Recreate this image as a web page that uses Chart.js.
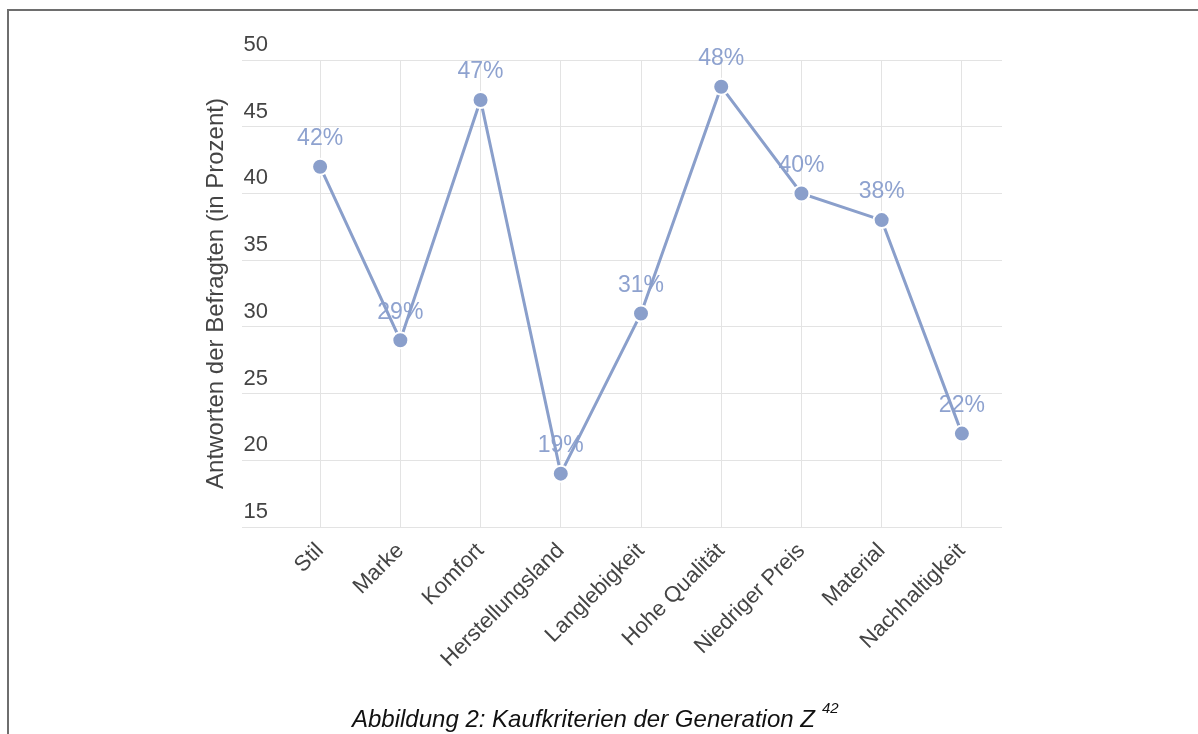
<!DOCTYPE html>
<html lang="de">
<head>
<meta charset="utf-8">
<title>Kaufkriterien der Generation Z</title>
<script src="https://cdn.jsdelivr.net/npm/chart.js@4.4.1/dist/chart.umd.min.js"></script>
<style>
    body {
        margin: 0;
        background: #ffffff;
        font-family: "Liberation Sans", Arial, sans-serif;
    }

    #page {
        position: relative;
        width: 1198px;
        height: 734px;
        overflow: hidden;
    }

    #frame {
        position: absolute;
        left: 7px;
        top: 9px;
        width: 1400px;
        height: 1000px;
        border-top: 2px solid #6e6e6e;
        border-left: 2px solid #6e6e6e;
    }

    #chart {
        position: absolute;
        left: 0;
        top: 0;
    }

    #caption {
        position: absolute;
        left: 352px;
        top: 707px;
        font-size: 24px;
        line-height: 24px;
        font-style: italic;
        color: #111111;
        white-space: nowrap;
    }

    #caption sup {
        font-size: 15px;
        position: relative;
        top: -14px;
        vertical-align: 0;
        margin-left: 7px;
    }
</style>
</head>
<body>
<div id="page">
    <div id="frame"></div>
    <canvas id="chart" width="1198" height="734"></canvas>
    <div id="caption">Abbildung 2: Kaufkriterien der Generation Z<sup>42</sup></div>
</div>

<script>
// Daten aus der Abbildung
const kriterien = ['Stil', 'Marke', 'Komfort', 'Herstellungsland', 'Langlebigkeit',
    'Hohe Qualität', 'Niedriger Preis', 'Material', 'Nachhaltigkeit'];
const antworten = [42, 29, 47, 19, 31, 48, 40, 38, 22];
const yTicks = [15, 20, 25, 30, 35, 40, 45, 50];

const lineColor = '#8a9fcb';
const labelColor = '#8ea2cf';
const textColor = '#444444';
const gridColor = '#e3e3e3';
const fontFamily = '"Liberation Sans", Arial, sans-serif';

// Prozent-Beschriftung über jedem Punkt
const wertLabels = {
    id: 'wertLabels',
    beforeDatasetsDraw(chart) {
        const ctx = chart.ctx;
        const meta = chart.getDatasetMeta(0);
        ctx.save();
        ctx.font = '23px ' + fontFamily;
        ctx.fillStyle = labelColor;
        ctx.textAlign = 'center';
        ctx.textBaseline = 'middle';
        meta.data.forEach((point, i) => {
            ctx.fillText(antworten[i] + '%', point.x, point.y - 28);
        });
        ctx.restore();
    }
};

function initializeChart() {
    new Chart(document.getElementById('chart'), {
        type: 'line',
        data: {
            labels: kriterien,
            datasets: [{
                data: antworten,
                borderColor: lineColor,
                borderWidth: 3,
                tension: 0,
                pointRadius: 8,
                pointHoverRadius: 8,
                pointBackgroundColor: lineColor,
                pointBorderColor: '#ffffff',
                pointBorderWidth: 2
            }]
        },
        options: {
            responsive: false,
            animation: false,
            devicePixelRatio: 1,
            layout: {
                padding: { left: 198, right: 196, top: 60, bottom: 57 }
            },
            plugins: {
                legend: { display: false },
                tooltip: { enabled: false }
            },
            scales: {
                x: {
                    offset: true,
                    border: { display: false },
                    grid: {
                        color: gridColor,
                        drawTicks: false
                    },
                    ticks: {
                        color: textColor,
                        font: { family: fontFamily, size: 22 },
                        minRotation: 45,
                        maxRotation: 45,
                        padding: 11,
                        autoSkip: false
                    },
                    afterFit: scale => { scale.height = 150; }
                },
                y: {
                    min: 15,
                    max: 50,
                    border: { display: false },
                    grid: {
                        color: gridColor,
                        tickColor: gridColor,
                        tickLength: 38
                    },
                    ticks: {
                        color: textColor,
                        font: { family: fontFamily, size: 22 },
                        padding: -26,
                        labelOffset: -15,
                        stepSize: 5,
                        callback: value => yTicks.includes(value) ? value : null
                    },
                    title: {
                        display: true,
                        text: 'Antworten der Befragten (in Prozent)',
                        color: textColor,
                        font: { family: fontFamily, size: 24 },
                        padding: { top: 4, bottom: 4 }
                    },
                    afterFit: scale => { scale.width = 82; }
                }
            }
        },
        plugins: [wertLabels]
    });
}

window.addEventListener('load', () => {
    initializeChart();
});
</script>
</body>
</html>
